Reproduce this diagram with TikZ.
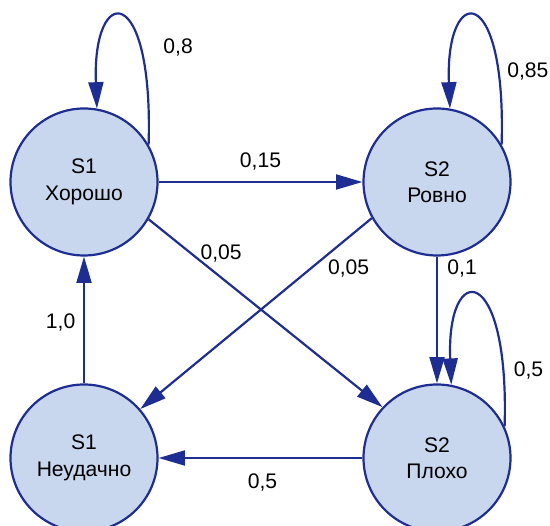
\documentclass[tikz,border=0pt]{standalone}
\usepackage{fontspec}
\setmainfont{Liberation Sans}
\usepackage{tikz}
\usetikzlibrary{automata, arrows.meta}

\definecolor{stfill}{RGB}{200,214,238}
\definecolor{stline}{RGB}{30,45,145}

\begin{document}
\begin{tikzpicture}[->,>={Triangle[length=15pt,width=8.5pt]},auto,node distance=7.06cm,
                    line width=1.25pt]
\tikzstyle{every state}=[fill=stfill,draw=stline,text=black,align=center]
\tikzstyle{every edge}=[draw=stline]
\tikzset{font=\fontsize{12pt}{15pt}\selectfont}
\useasboundingbox (0,0) rectangle (11,-10.52);

        \node[state,inner sep=0pt,minimum size=2.94cm]                      (0) at (1.68,-3.64) {S1\\Хорошо};
        \node[state,inner sep=0pt,minimum size=2.94cm]                      (1) [right of=0]    {S2\\Ровно};
        \node[state,inner sep=0pt,minimum size=2.94cm, node distance=5.52cm] (2) [below of=0]    {S1\\Неудачно};
        \node[state,inner sep=0pt,minimum size=2.94cm]                      (3) [right of=2]    {S2\\Плохо};

        \path[->]
        (0)      edge node[above=3pt]                  (p01) {0,15}   (1)
        (0.-30)  edge node[pos=.31, above=5pt]         (p03) {0,05}   (3.137)
        (1.209)  edge node[pos=.1, below=9pt]          (p12) {0,05}   (2.41)
        (1)      edge node[pos=.09, right=2pt]         (p13) {0,1}    (3)
        (2)      edge node[pos=.48, left=1pt]          (p20) {1,0}    (0)
        (3)      edge node[pos=.49, below=5pt]         (p32) {0,5}    (2)
        ; %end path

        % loops
        \draw[stline] (0.30) .. controls +(0.1,3.3) and +(-0.1,2.5) .. node[pos=.27, right=9pt, black] (p00) {0,8}  (0.80);
        \draw[stline] (1.30) .. controls +(0.1,3.3) and +(-0.1,2.5) .. node[pos=.18, right=1pt, black] (p11) {0,85} (1.80);
        \draw[stline] (3.25) .. controls +(0.1,3.3) and +(-0.1,2.5) .. node[pos=.13, right=2pt, black] (p33) {0,5}  (3.79);

\end{tikzpicture}
\end{document}
